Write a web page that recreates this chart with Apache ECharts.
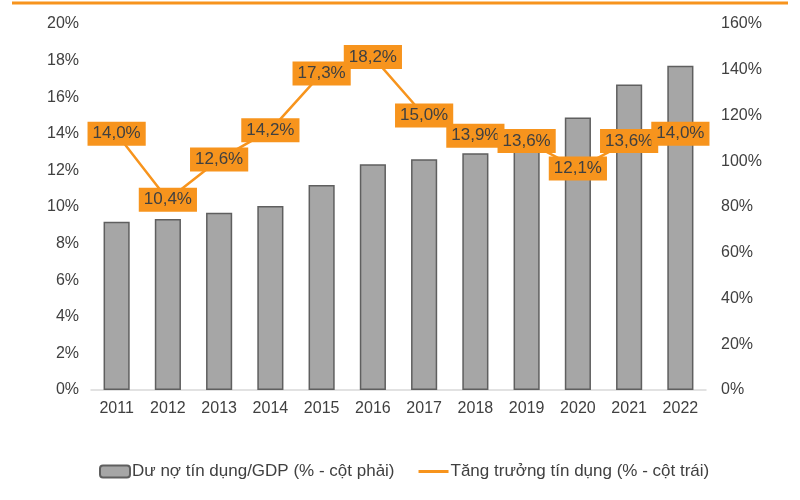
<!DOCTYPE html>
<html>
<head>
<meta charset="utf-8">
<script src="https://cdn.jsdelivr.net/npm/echarts@6/dist/echarts.min.js"></script>
<style>
    html, body { margin: 0; padding: 0; background: #fff; }
</style>
</head>
<body>
<div id="chart" style="width: 800px; height: 500px;"></div>
<script>
// năm
const years = ['2011', '2012', '2013', '2014', '2015', '2016', '2017', '2018', '2019', '2020', '2021', '2022'];
// Dư nợ tín dụng/GDP (% - cột phải)
const creditToGdp = [73.5, 74.8, 77.5, 80.4, 89.6, 98.7, 100.9, 103.5, 106, 119.1, 133.5, 141.7];
// Tăng trưởng tín dụng (% - cột trái)
const creditGrowth = [14.0, 10.4, 12.6, 14.2, 17.3, 18.2, 15.0, 13.9, 13.6, 12.1, 13.6, 14.0];

const orange = '#f7941d';
const textColor = '#404040';
const font = 'Liberation Sans, Arial, sans-serif';

const chart = echarts.init(document.getElementById('chart'));

const option = {
    animation: false,
    grid: {
        left: 91,
        right: 94,
        top: 24,
        bottom: 110
    },
    graphic: [
        {
            type: 'line',
            shape: { x1: 12, y1: 3, x2: 788, y2: 3 },
            style: { stroke: orange, lineWidth: 3 }
        }
    ],
    legend: {
        left: 94,
        top: 458,
        itemWidth: 30,
        itemHeight: 12,
        itemGap: 24,
        textStyle: { color: textColor, fontSize: 17, fontFamily: font, padding: [0, 0, 0, -3] },
        data: [
            { name: 'Dư nợ tín dụng/GDP (% - cột phải)' },
            { name: 'Tăng trưởng tín dụng (% - cột trái)', icon: 'path://M0,0 L30,0 L30,3 L0,3 Z' }
        ]
    },
    xAxis: {
        type: 'category',
        data: years,
        axisLine: { lineStyle: { color: '#d9d9d9', width: 1.5 } },
        axisTick: { show: false },
        axisLabel: { color: textColor, fontSize: 16, fontFamily: font, margin: 11 }
    },
    yAxis: [
        {
            type: 'value',
            min: 0,
            max: 20,
            interval: 2,
            axisLine: { show: false },
            axisTick: { show: false },
            splitLine: { show: false },
            axisLabel: { formatter: '{value}%', color: textColor, fontSize: 16, fontFamily: font, margin: 12 }
        },
        {
            type: 'value',
            min: 0,
            max: 160,
            interval: 20,
            axisLine: { show: false },
            axisTick: { show: false },
            splitLine: { show: false },
            axisLabel: { formatter: '{value}%', color: textColor, fontSize: 16, fontFamily: font, margin: 15 }
        }
    ],
    series: [
        {
            name: 'Dư nợ tín dụng/GDP (% - cột phải)',
            type: 'bar',
            yAxisIndex: 1,
            data: creditToGdp,
            barWidth: '51%',
            itemStyle: {
                color: '#a6a6a6',
                borderColor: '#5f5f5f',
                borderWidth: 1.5
            }
        },
        {
            name: 'Tăng trưởng tín dụng (% - cột trái)',
            type: 'line',
            yAxisIndex: 0,
            data: creditGrowth,
            symbol: 'circle',
            symbolSize: 0.01,
            showSymbol: true,
            lineStyle: { color: orange, width: 2.5 },
            itemStyle: { color: orange },
            label: {
                show: true,
                position: 'inside',
                backgroundColor: orange,
                color: textColor,
                fontSize: 17,
                fontFamily: font,
                padding: [4, 5, 3, 5],
                formatter: (params) => params.value.toFixed(1).replace('.', ',') + '%'
            },
            z: 5
        }
    ]
};

option && chart.setOption(option);
</script>
</body>
</html>
